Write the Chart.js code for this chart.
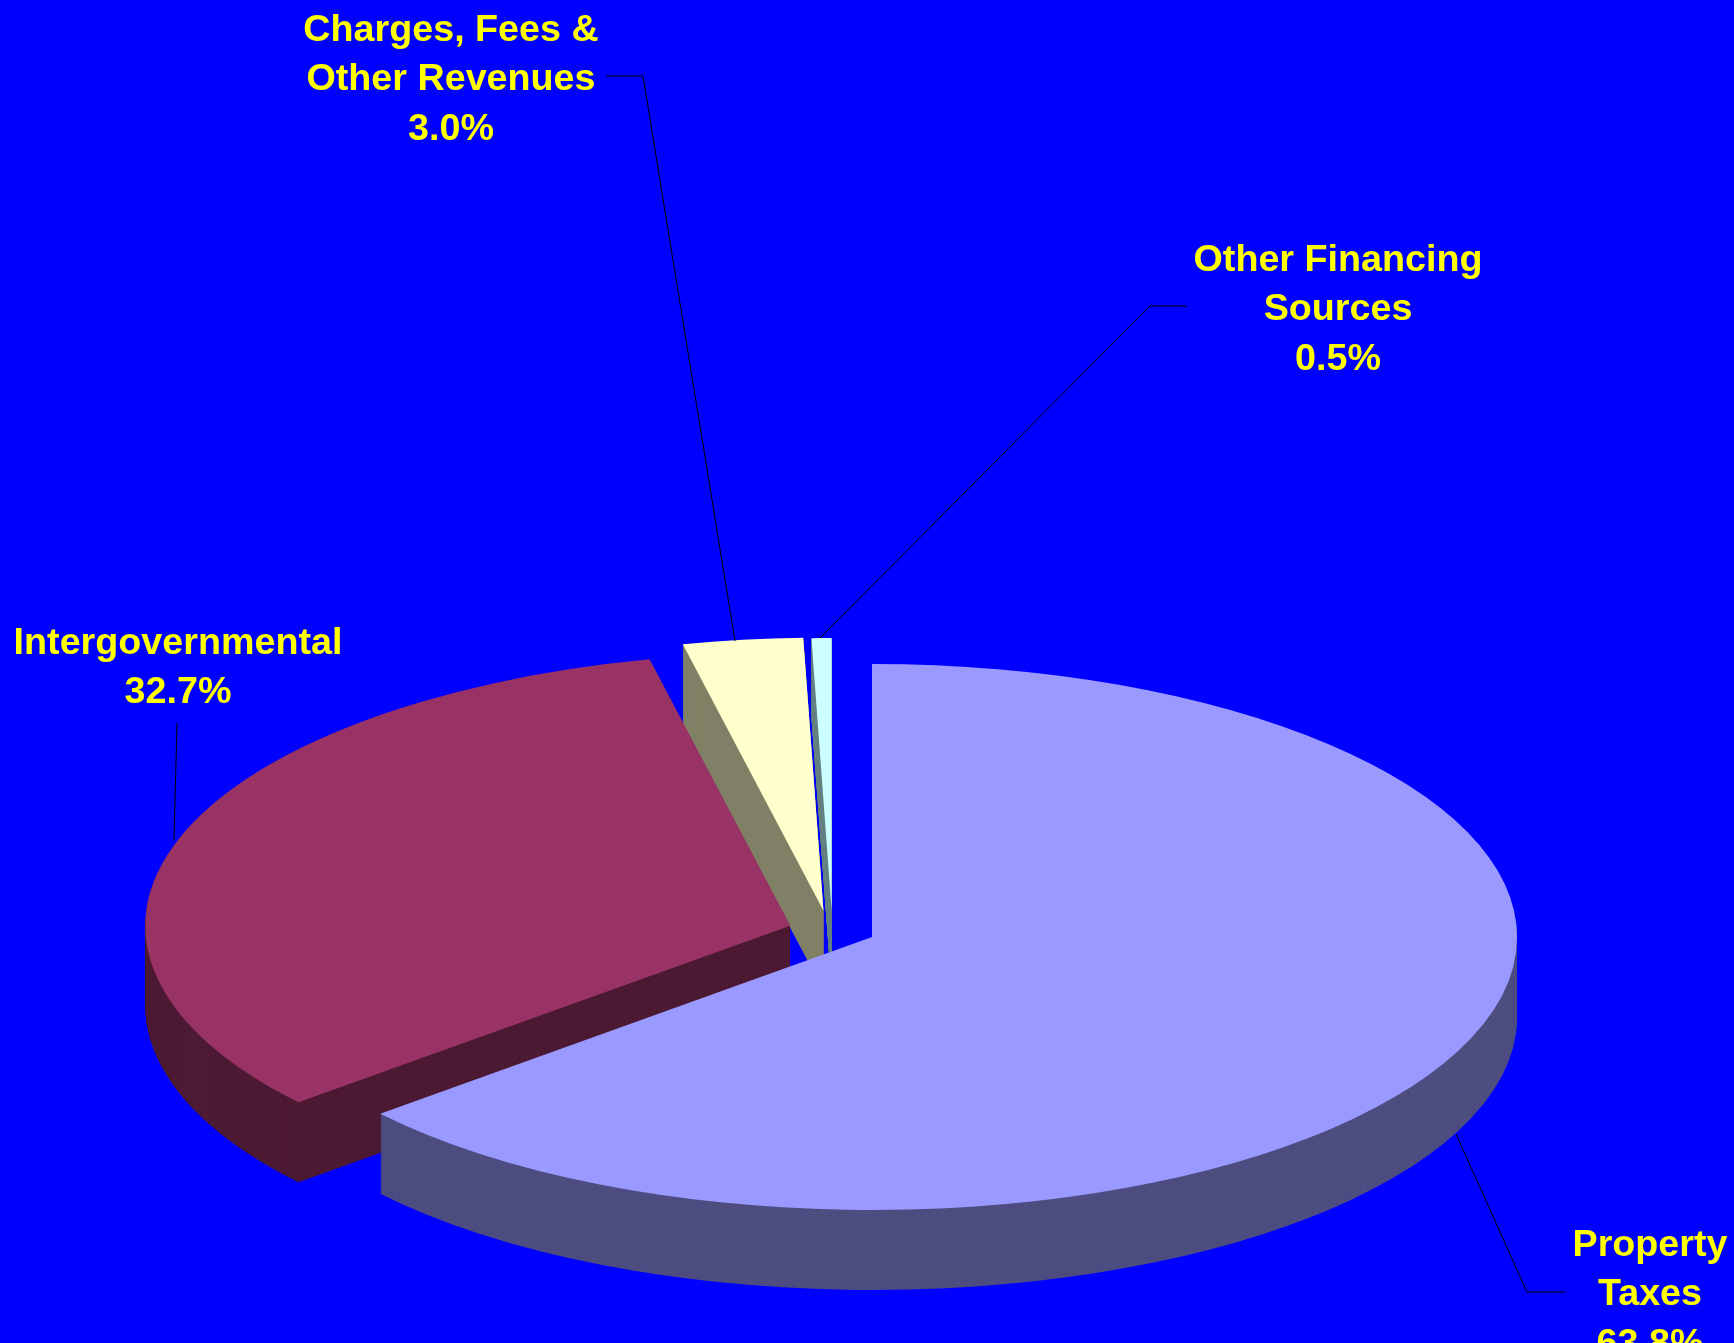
<!DOCTYPE html>
<html>
<head>
<meta charset="utf-8">
<title>Revenue sources</title>
<script src="https://cdn.jsdelivr.net/npm/chart.js@4"></script>
<style>
  html, body { margin: 0; padding: 0; background: #0000ff; overflow: hidden; }
  canvas { display: block; }
</style>
</head>
<body>
<canvas id="chart" width="1734" height="1343"></canvas>
<script>
const categories = ["Property Taxes", "Intergovernmental", "Charges, Fees & Other Revenues", "Other Financing Sources"];
const shares = [63.8, 32.7, 3.0, 0.5];
const labelLines = [
  ["Property", "Taxes"],
  ["Intergovernmental"],
  ["Charges, Fees &", "Other Revenues"],
  ["Other Financing", "Sources"],
];

const topColors = ["#9999ff", "#993366", "#ffffcc", "#ccffff"];
const sideColors = ["#4d4d80", "#4d1a33", "#808066", "#668080"];

// the look of the tilted pie
const center = { x: 872, y: 937 };
const tilt = 273 / 645;
const depth = 80;
const explode = [[0, 0], [-81.7, -11.3], [-48.5, -26.3], [-40.3, -26]];

// where each label sits (center x, first baseline) and its leader line
const labelPos = [[1650, 1256], [178, 654], [451, 41], [1338, 271]];
const leaders = [
  [[1456, 1134], [1527, 1292], [1565, 1292]],
  [[177, 723], [174, 840]],
  [[606, 76], [643, 76], [735, 641]],
  [[1187, 306], [1150, 306], [820, 638]],
];

const tiltedPie = {
  id: "tiltedPie",
  beforeDatasetsDraw(chart) {
    const ctx = chart.ctx;
    const arcs = chart.getDatasetMeta(0).data;
    const drawAt = (arc, i, drop) => {
      ctx.save();
      ctx.translate(center.x + explode[i][0], center.y + explode[i][1] + drop);
      ctx.scale(1, tilt);
      ctx.translate(-arc.x, -arc.y);
      arc.draw(ctx);
      ctx.restore();
    };
    // back slices first, property taxes goes over everything
    for (let i = arcs.length - 1; i >= 0; i--) {
      const arc = arcs[i];
      const topOptions = arc.options;
      arc.options = { ...topOptions, backgroundColor: sideColors[i] };
      for (let d = depth; d > 0; d--) drawAt(arc, i, d);
      arc.options = topOptions;
      drawAt(arc, i, 0);
    }
    return false;
  },
  afterDraw(chart) {
    const ctx = chart.ctx;
    ctx.save();
    ctx.strokeStyle = "#000000";
    ctx.lineWidth = 1;
    leaders.forEach((pts) => {
      ctx.beginPath();
      pts.forEach((p, i) => (i ? ctx.lineTo(p[0], p[1]) : ctx.moveTo(p[0], p[1])));
      ctx.stroke();
    });
    ctx.fillStyle = "#ffff00";
    ctx.font = "bold 37.7px 'Liberation Sans', Arial, sans-serif";
    ctx.textAlign = "center";
    ctx.textBaseline = "alphabetic";
    labelLines.forEach((lines, i) => {
      const rows = [...lines, shares[i].toFixed(1) + "%"];
      rows.forEach((row, r) => ctx.fillText(row, labelPos[i][0], labelPos[i][1] + r * 49.3));
    });
    ctx.restore();
  },
};

new Chart(document.getElementById("chart"), {
  type: "pie",
  data: {
    labels: categories,
    datasets: [{
      data: shares,
      backgroundColor: topColors,
      borderWidth: 0,
      radius: 645,
    }],
  },
  options: {
    responsive: false,
    animation: false,
    plugins: {
      legend: { display: false },
      tooltip: { enabled: false },
    },
  },
  plugins: [tiltedPie],
});
</script>
</body>
</html>
